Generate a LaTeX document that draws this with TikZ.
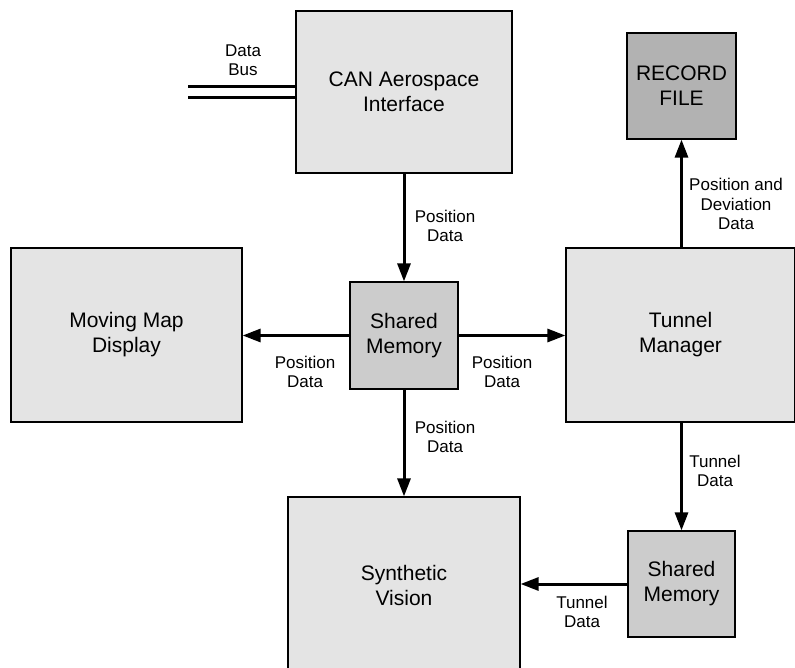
\documentclass[tikz,border=0pt]{standalone}
\usepackage{fontspec}
\setmainfont{Liberation Sans}
\usetikzlibrary{arrows.meta}
\definecolor{boxlight}{RGB}{228,228,228}
\definecolor{boxmid}{RGB}{204,204,204}
\definecolor{boxdark}{RGB}{178,178,178}
\tikzset{
  blockbox/.style={draw=black, line width=1.2pt, fill=boxlight, align=center, inner sep=0pt,
    font=\fontsize{21}{25}\selectfont},
  membox/.style={blockbox, fill=boxmid},
  filebox/.style={blockbox, fill=boxdark},
  flow/.style={line width=3pt, -{Triangle[length=18pt,width=13pt]}},
  buslink/.style={line width=3pt},
  lbl/.style={align=center, inner sep=0pt, font=\fontsize{17}{19.5}\selectfont}
}
\begin{document}
\begin{tikzpicture}[x=1pt,y=-1pt]
\useasboundingbox (0,0) rectangle (795,668);
\clip (0,0) rectangle (795,668);
\fill[white] (0,0) rectangle (795,668);
% blocks
\node[blockbox, minimum width=216pt, minimum height=162pt] (can) at (404,92) {CAN Aerospace\\Interface};
\node[filebox, minimum width=109pt, minimum height=106pt] (rec) at (681.5,86) {RECORD\\FILE};
\node[blockbox, minimum width=231pt, minimum height=174pt] (mm) at (126.5,335) {Moving Map\\Display};
\node[membox, minimum width=108pt, minimum height=107pt] (sm) at (404,335.5) {Shared\\Memory};
\node[blockbox, minimum width=229pt, minimum height=174pt] (tm) at (680.5,335) {Tunnel\\Manager};
\node[blockbox, minimum width=232pt, minimum height=176pt] (sv) at (404,585) {Synthetic\\Vision};
\node[membox, minimum width=107pt, minimum height=106pt] (smb) at (681.5,584) {Shared\\Memory};
% data bus
\coordinate (busa) at (188,87);
\coordinate (busb) at (188,98);
\draw[buslink] (busa) -- (busa -| can.west);
\draw[buslink] (busb) -- (busb -| can.west);
\node[lbl] (lbus) at (243,60) {Data\\Bus};
% connectors
\draw[flow] (can.south) -- (sm.north);
\draw[flow] (sm.west) -- (sm.west -| mm.east);
\draw[flow] (sm.east) -- (sm.east -| tm.west);
\draw[flow] (sm.south) -- (sv.north);
\draw[flow] (tm.north -| rec.south) -- (rec.south);
\draw[flow] (tm.south -| smb.north) -- (smb.north);
\draw[flow] (smb.west) -- (smb.west -| sv.east);
% labels
\node[lbl] (l1) at (445,226) {Position\\Data};
\node[lbl] (l2) at (305,372) {Position\\Data};
\node[lbl] (l3) at (502,372) {Position\\Data};
\node[lbl] (l4) at (445,437) {Position\\Data};
\node[lbl] (l5) at (736,204) {Position and\\Deviation\\Data};
\node[lbl] (l6) at (715,471) {Tunnel\\Data};
\node[lbl] (l7) at (582,612) {Tunnel\\Data};
\end{tikzpicture}
\end{document}
